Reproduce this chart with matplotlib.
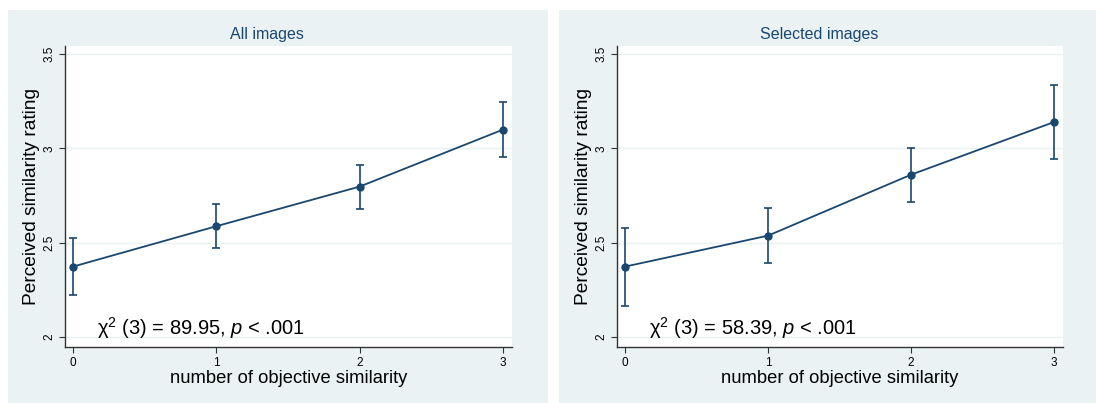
import numpy as np
import matplotlib
matplotlib.use("Agg")
import matplotlib.pyplot as plt
from matplotlib.patches import Rectangle

plt.rcParams['font.family'] = ['Liberation Sans', 'DejaVu Sans']
plt.rcParams['mathtext.fontset'] = 'custom'
plt.rcParams['mathtext.rm'] = 'Liberation Sans'
plt.rcParams['mathtext.it'] = 'Liberation Sans:italic'

# data
x_levels = [0, 1, 2, 3]
titles = ["All images", "Selected images"]
means_all = [2.373, 2.587, 2.797, 3.099]
lo_all = [2.223, 2.470, 2.680, 2.952]
hi_all = [2.523, 2.705, 2.913, 3.247]
means_sel = [2.373, 2.537, 2.860, 3.139]
lo_sel = [2.166, 2.392, 2.718, 2.945]
hi_sel = [2.575, 2.683, 3.003, 3.335]
stats = ["χ$^{2}$ (3) = 89.95, $p$ < .001", "χ$^{2}$ (3) = 58.39, $p$ < .001"]
yticks = [2, 2.5, 3, 3.5]
ytick_labels = ["2", "2.5", "3", "3.5"]

W, H = 1096, 403
navy = "#1a476f"
bg = "#eaf2f3"

fig = plt.figure(figsize=(W / 100, H / 100), dpi=100)
fig.patch.set_facecolor("white")

# panel backgrounds (pixel boxes: left, right, top, bottom)
panels = [(8, 548, 10, 403), (559, 1096, 10, 403)]
for l, r, t, b in panels:
    fig.patches.append(Rectangle((l / W, 1 - b / H), (r - l) / W, (b - t) / H,
                                 transform=fig.transFigure, facecolor=bg,
                                 edgecolor="none", zorder=-1))

ax_px = [(65, 512), (617, 1063)]
title_x = [267, 819]
series = [(means_all, lo_all, hi_all), (means_sel, lo_sel, hi_sel)]

for i in range(2):
    l, r = ax_px[i]
    ax = fig.add_axes([l / W, 1 - 347 / H, (r - l) / W, (347 - 46) / H])
    m, lo, hi = series[i]
    m = np.array(m)
    yerr = [m - np.array(lo), np.array(hi) - m]
    ax.errorbar(x_levels, m, yerr=yerr, color=navy, lw=1.3, marker="o",
                markersize=5, capsize=2.8, elinewidth=1.2, capthick=1.2, zorder=3)
    ax.set_xlim(-0.056, 3.063)
    ax.set_ylim(1.947, 3.542)
    ax.set_yticks(yticks)
    ax.set_yticklabels(ytick_labels, rotation=90, va="center", fontsize=8.5)
    ax.set_xticks(x_levels)
    ax.set_xticklabels([str(v) for v in x_levels], fontsize=8.5)
    ax.grid(axis="y", color=bg, lw=1)
    ax.set_axisbelow(True)
    for s in ["top", "right"]:
        ax.spines[s].set_visible(False)
    for s in ["left", "bottom"]:
        ax.spines[s].set_color("#333333")
        ax.spines[s].set_linewidth(1)
    ax.tick_params(length=4, width=0.8, color="#333333", pad=3)
    ax.set_ylabel("Perceived similarity rating", fontsize=13.8, labelpad=2)
    ax.set_xlabel("number of objective similarity", fontsize=13.2, labelpad=1)
    ax.text(0.17, 2.01, stats[i], fontsize=14.5, ha="left", va="baseline")
    fig.text(title_x[i] / W, 1 - 34 / H, titles[i], fontsize=11.5, color=navy,
             ha="center", va="center")

fig.savefig("out.png", dpi=100, facecolor=fig.get_facecolor())
